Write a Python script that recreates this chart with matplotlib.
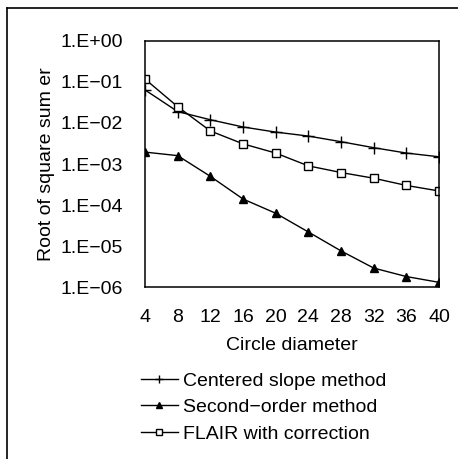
import matplotlib.pyplot as plt
from matplotlib.lines import Line2D
from matplotlib.ticker import FixedLocator, FixedFormatter

plt.rcParams['font.family'] = ['Liberation Sans', 'DejaVu Sans']

diameters = [4, 8, 12, 16, 20, 24, 28, 32, 36, 40]
centered_slope = [6.4e-2, 1.9e-2, 1.2e-2, 8.0e-3, 6.0e-3, 4.8e-3, 3.5e-3, 2.5e-3, 1.85e-3, 1.5e-3]
second_order = [1.95e-3, 1.6e-3, 5.0e-4, 1.4e-4, 6.3e-5, 2.2e-5, 7.6e-6, 2.9e-6, 1.8e-6, 1.3e-6]
flair = [0.118, 2.5e-2, 6.4e-3, 3.1e-3, 1.85e-3, 9.0e-4, 6.2e-4, 4.5e-4, 3.0e-4, 2.2e-4]
ytick_vals = [1e0, 1e-1, 1e-2, 1e-3, 1e-4, 1e-5, 1e-6]
ytick_labels = ['1.E+00', '1.E\u221201', '1.E\u221202', '1.E\u221203', '1.E\u221204', '1.E\u221205', '1.E\u221206']

fs = 14

fig = plt.figure(figsize=(4.58, 4.59), dpi=100)
ax = fig.add_axes([0.3166, 0.3747, 0.6419, 0.536])

ax.plot(diameters, centered_slope, color='black', lw=1, marker='+', ms=8, mew=1,
        label='Centered slope method')
ax.plot(diameters, second_order, color='black', lw=1, marker='^', ms=5.5, mfc='black',
        label='Second\u2212order method')
ax.plot(diameters, flair, color='black', lw=1, marker='s', ms=6, mfc='white', mew=1,
        label='FLAIR with correction')

ax.set_yscale('log')
ax.set_ylim(1e-6, 1e0)
ax.set_xlim(4, 40)
ax.yaxis.set_major_locator(FixedLocator(ytick_vals))
ax.yaxis.set_major_formatter(FixedFormatter(ytick_labels))
ax.yaxis.set_minor_locator(FixedLocator([]))
ax.set_xticks(diameters)
ax.set_xticklabels([str(d) for d in diameters])
ax.tick_params(axis='both', length=0, labelsize=fs, colors='black')
ax.tick_params(axis='y', pad=16)
ax.tick_params(axis='x', pad=16)
for s in ax.spines.values():
    s.set_linewidth(1.1)
    s.set_color('black')

ax.set_xlabel('Circle diameter', fontsize=fs, labelpad=8)
ax.set_ylabel('Root of square sum er', fontsize=fs, labelpad=4)

ax.legend(loc='upper left', bbox_to_anchor=(-0.04, -0.315), frameon=False, fontsize=fs,
          handlelength=1.9, handletextpad=0.25, labelspacing=0.45, borderaxespad=0,
          markerscale=0.75)

# outer frame (top and left edges only, as in the scan)
fig.add_artist(Line2D([0.016, 0.016], [0.0, 0.982], transform=fig.transFigure, color='black', lw=1.2))
fig.add_artist(Line2D([0.016, 1.0], [0.982, 0.982], transform=fig.transFigure, color='black', lw=1.2))

fig.savefig('out.png', dpi=100)
